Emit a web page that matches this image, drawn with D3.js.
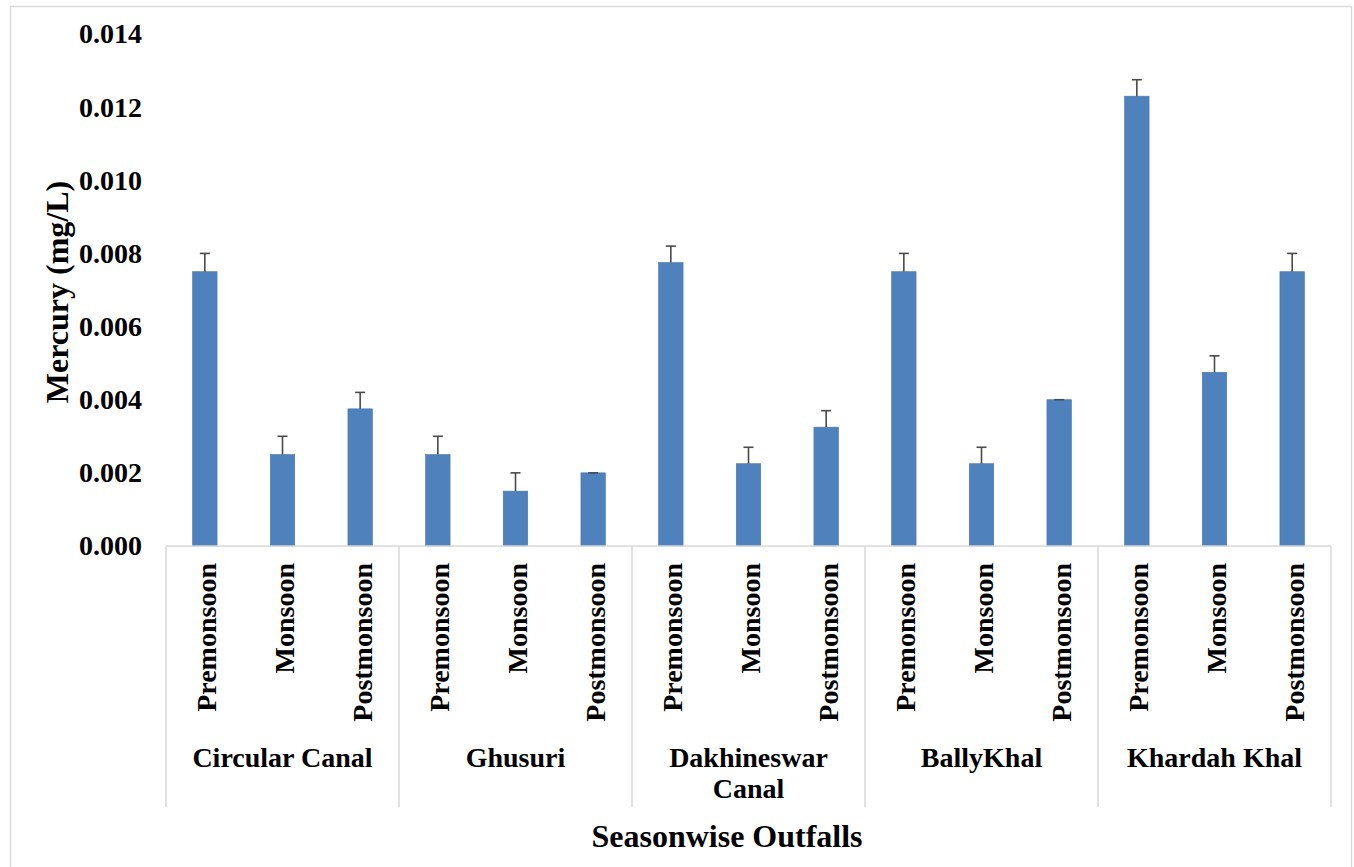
<!DOCTYPE html>
<html>
<head>
<meta charset="utf-8">
<script src="https://cdn.jsdelivr.net/npm/d3@7"></script>
<style>
  html, body { margin: 0; padding: 0; background: #fff; }
  svg { display: block; }
  text { font-family: "Liberation Serif", "Times New Roman", serif; font-weight: bold; fill: #000; }
</style>
</head>
<body>
<svg id="chart" width="1354" height="867"></svg>
<script>
// Outfall sites and sampling seasons
const outfalls = ["Circular Canal", "Ghusuri", "Dakhineswar Canal", "BallyKhal", "Khardah Khal"];
const seasons = ["Premonsoon", "Monsoon", "Postmonsoon"];

// Mean mercury concentration (mg/L) per outfall, ordered by season
const circularCanal = [0.0075, 0.0025, 0.00375];
const ghusuri = [0.0025, 0.0015, 0.002];
const dakhineswarCanal = [0.00775, 0.00225, 0.00325];
const ballyKhal = [0.0075, 0.00225, 0.004];
const khardahKhal = [0.0123, 0.00475, 0.0075];

// Standard deviation (upper error bar) per outfall, ordered by season
const circularCanalErr = [0.0005, 0.0005, 0.00045];
const ghusuriErr = [0.0005, 0.0005, 0];
const dakhineswarCanalErr = [0.00045, 0.00045, 0.00045];
const ballyKhalErr = [0.0005, 0.00045, 0];
const khardahKhalErr = [0.00045, 0.00045, 0.0005];

// Y axis tick values
const yTicks = [0, 0.002, 0.004, 0.006, 0.008, 0.010, 0.012, 0.014];

const seriesValues = [circularCanal, ghusuri, dakhineswarCanal, ballyKhal, khardahKhal];
const seriesErrors = [circularCanalErr, ghusuriErr, dakhineswarCanalErr, ballyKhalErr, khardahKhalErr];

const rows = [];
outfalls.forEach((o, i) => {
  seasons.forEach((s, j) => {
    rows.push({ outfall: o, season: s, value: seriesValues[i][j], err: seriesErrors[i][j] });
  });
});

const svg = d3.select("#chart");

// Outer chart frame
svg.append("rect")
  .attr("x", 10.5).attr("y", 6.5)
  .attr("width", 1341).attr("height", 880)
  .attr("fill", "#fff")
  .attr("stroke", "#d9d9d9")
  .attr("stroke-width", 1.5);

const plotLeft = 166, plotRight = 1331, plotTop = 34, plotBottom = 546;
const axisBoxBottom = 807;

const x0 = d3.scaleBand().domain(outfalls).range([plotLeft, plotRight]).padding(0);
const x1 = d3.scaleBand().domain(seasons).range([0, x0.bandwidth()])
  .paddingInner(0.685).paddingOuter(0.3425);
const y = d3.scaleLinear().domain([0, 0.014]).range([plotBottom, plotTop]);

// Y axis labels (no axis line, no gridlines)
const yAxis = d3.axisLeft(y).tickValues(yTicks).tickFormat(d3.format(".3f")).tickSize(0).tickPadding(0);
const yg = svg.append("g").attr("transform", `translate(142,0)`).call(yAxis);
yg.select(".domain").remove();
yg.selectAll("text")
  .attr("font-size", 28)
  .attr("font-family", "Liberation Serif, serif")
  .attr("font-weight", "bold")
  .attr("fill", "#000")
  .attr("dy", "0.32em");

// Bars
svg.append("g").selectAll("rect")
  .data(rows)
  .join("rect")
  .attr("x", d => x0(d.outfall) + x1(d.season))
  .attr("y", d => y(d.value))
  .attr("width", x1.bandwidth())
  .attr("height", d => y(0) - y(d.value))
  .attr("fill", "#4f81bd")
  .attr("stroke", "#4475b0")
  .attr("stroke-width", 0.6);

// Error bars (upper only)
const capW = 10;
const eg = svg.append("g").attr("stroke", "#4a4a4a").attr("stroke-width", 1.6);
rows.forEach(d => {
  const cx = x0(d.outfall) + x1(d.season) + x1.bandwidth() / 2;
  const yTop = y(d.value + d.err);
  eg.append("line").attr("x1", cx).attr("x2", cx).attr("y1", y(d.value)).attr("y2", yTop);
  eg.append("line").attr("x1", cx - capW / 2).attr("x2", cx + capW / 2).attr("y1", yTop).attr("y2", yTop);
});

// Category axis line and group dividers
const ag = svg.append("g").attr("stroke", "#d9d9d9").attr("stroke-width", 1.5);
ag.append("line").attr("x1", plotLeft).attr("x2", plotRight).attr("y1", plotBottom).attr("y2", plotBottom);
const dividers = outfalls.map(o => x0(o)).concat([x0.range()[1]]);
dividers.forEach(dx => {
  ag.append("line").attr("x1", dx).attr("x2", dx).attr("y1", plotBottom).attr("y2", axisBoxBottom);
});

// Season labels (rotated)
const lg = svg.append("g");
rows.forEach(d => {
  const cx = x0(d.outfall) + x1(d.season) + x1.bandwidth() / 2;
  lg.append("text")
    .attr("transform", `translate(${cx + 11.5},563) rotate(-90)`)
    .attr("text-anchor", "end")
    .attr("font-size", 28)
    .text(d.season);
});

// Outfall labels, wrapped to fit their group
const gg = svg.append("g");
outfalls.forEach(o => {
  const cx = x0(o) + x0.bandwidth() / 2;
  const t = gg.append("text").attr("text-anchor", "middle").attr("font-size", 28)
    .attr("x", cx).attr("y", 767);
  const words = o.split(" ");
  let line = [];
  let tspan = t.append("tspan").attr("x", cx).attr("dy", 0);
  words.forEach(w => {
    line.push(w);
    tspan.text(line.join(" "));
    if (tspan.node().getComputedTextLength() > x0.bandwidth() - 12 && line.length > 1) {
      line.pop();
      tspan.text(line.join(" "));
      line = [w];
      tspan = t.append("tspan").attr("x", cx).attr("dy", 31).text(w);
    }
  });
});

// Axis titles
svg.append("text")
  .attr("transform", "translate(68,292) rotate(-90)")
  .attr("text-anchor", "middle")
  .attr("font-size", 32)
  .text("Mercury (mg/L)");

svg.append("text")
  .attr("x", 727).attr("y", 847)
  .attr("text-anchor", "middle")
  .attr("font-size", 32)
  .text("Seasonwise Outfalls");
</script>
</body>
</html>
